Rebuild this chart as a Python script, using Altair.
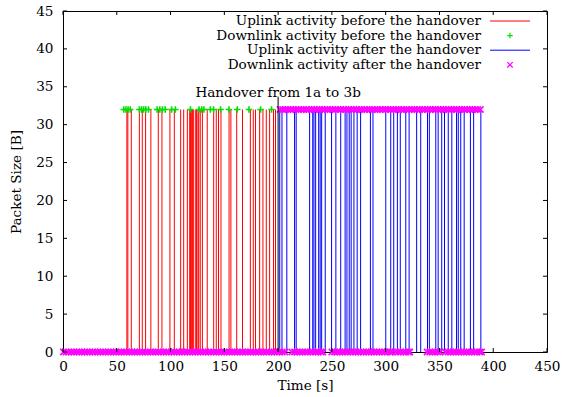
import altair as alt
import pandas as pd

# ---------------- data ----------------
uplink_before_t = [59.4, 60.3, 63.5, 71.0, 73.7, 76.8, 81.7, 88.6, 92.0, 99.4, 103.5, 109.4,
                   112.2, 115.6, 117.8, 118.6, 119.6, 120.5, 121.5, 123.4, 124.2, 125.5, 126.2,
                   127.6, 129.6, 134.1, 140.1, 142.5, 144.6, 146.9, 154.4, 156.1, 161.5, 166.9,
                   174.2, 176.9, 179.0, 182.8, 185.9, 189.0, 192.1, 195.7, 197.6]
uplink_after_t = [201.5, 203.6, 208.1, 215.3, 216.8, 229.3, 232.2, 233.3, 234.9, 237.7, 239.1,
                  240.5, 243.8, 249.7, 253.7, 258.2, 262.3, 264.0, 266.1, 267.9, 270.5, 273.5,
                  276.7, 285.8, 288.2, 300.1, 304.7, 307.5, 310.9, 313.6, 318.7, 321.8, 328.8,
                  332.6, 338.9, 340.6, 346.6, 348.8, 352.1, 354.7, 358.2, 361.5, 365.9, 367.5,
                  369.8, 373.0, 378.8, 381.8, 388.5]
uplink_size = 32

downlink_before_t = [56.5, 58.5, 60.5, 62.5, 71.0, 73.0, 75.0, 77.0, 79.5, 87.5, 90.0, 92.5,
                     95.0, 101.0, 104.5, 118.5, 126.5, 129.0, 131.0, 137.0, 140.0, 146.5,
                     154.3, 162.0, 172.9, 183.7, 193.9]
downlink_size = 32

downlink_after_t32 = [201.8, 204.2, 206.7, 209.1, 211.6, 214.0, 216.5, 218.9, 221.4, 223.8,
                      226.3, 228.7, 231.2, 233.6, 236.1, 238.5, 241.0, 243.4, 245.9, 248.3,
                      250.8, 253.2, 255.7, 258.1, 260.6, 263.0, 265.5, 267.9, 270.4, 272.8,
                      275.3, 277.7, 280.2, 282.6, 285.1, 287.5, 290.0, 292.4, 294.9, 297.3,
                      299.8, 302.2, 304.7, 307.1, 309.6, 312.0, 314.5, 316.9, 319.4, 321.8,
                      324.3, 326.7, 329.2, 331.6, 334.1, 336.5, 339.0, 341.4, 343.9, 346.3,
                      348.8, 351.2, 353.7, 356.1, 358.6, 361.0, 363.5, 365.9, 368.4, 370.8,
                      373.3, 375.7, 378.2, 380.6, 383.1, 385.5, 388.0]
downlink_after_t0 = [0.4, 2.9, 5.3, 7.8, 10.2, 12.7, 15.1, 17.6, 20.0, 22.5, 24.9, 27.4, 29.8,
                     32.3, 34.7, 37.2, 39.6, 42.1, 44.5, 47.0, 49.4, 51.9, 54.3, 56.8, 59.2,
                     61.7, 64.1, 66.6, 69.0, 71.5, 73.9, 76.4, 78.8, 81.3, 83.7, 86.2, 88.6,
                     91.1, 93.5, 96.0, 98.4, 100.9, 103.3, 105.8, 108.2, 110.7, 113.1, 115.6,
                     118.0, 120.5, 122.9, 125.4, 127.8, 130.3, 132.7, 135.2, 137.6, 140.1,
                     142.5, 145.0, 147.4, 149.9, 152.3, 154.8, 157.2, 159.7, 162.1, 164.6,
                     167.0, 169.5, 171.9, 174.4, 176.8, 179.3, 181.7, 184.2, 186.6, 189.1,
                     191.5, 194.0, 196.4, 198.9, 201.3, 203.8, 206.2,
                     212.8, 215.3, 217.7, 220.2, 222.6, 225.1, 227.5, 230.0, 232.4, 234.9,
                     237.3, 239.8, 241.6,
                     250.0, 252.5, 254.9, 257.4, 259.8, 262.3, 264.7, 267.2, 269.6, 272.1,
                     274.5, 277.0, 279.4, 281.9, 284.3, 286.8, 289.2, 291.7, 294.1, 296.6,
                     299.0, 301.5, 303.9, 305.4,
                     309.0, 311.5, 313.9, 316.4, 318.8, 321.3, 322.4,
                     338.5, 341.0, 343.4, 345.9, 348.3, 350.4,
                     355.5, 358.0, 360.4, 362.9, 365.3, 367.8, 370.2, 372.7, 375.1, 377.6,
                     380.0, 382.5, 384.9, 387.4, 389.2]

handover_t = 200
handover_top = 33.7
handover_label = "Handover from 1a to 3b"

x_ticks = [0, 50, 100, 150, 200, 250, 300, 350, 400, 450]
y_ticks = [0, 5, 10, 15, 20, 25, 30, 35, 40, 45]

legend_labels = ["Uplink activity before the handover",
                 "Downlink activity before the handover",
                 "Uplink activity after the handover",
                 "Downlink activity after the handover"]

# ---------------- styling ----------------
FONT = "DejaVu Serif"
FS = 13.6
W, H = 484, 341
RED, GREEN, BLUE, MAGENTA = "#ff0000", "#00e000", "#0000ff", "#ff00ff"
PLUS = "M-1,0L1,0M0,-1L0,1"
CROSS = "M-1,-1L1,1M-1,1L1,-1"

xs = alt.Scale(domain=[0, 450], nice=False, zero=False)
ys = alt.Scale(domain=[0, 45], nice=False)

up_before = pd.DataFrame({"t": uplink_before_t, "size": uplink_size, "base": 0})
up_after = pd.DataFrame({"t": uplink_after_t, "size": uplink_size, "base": 0})
dl_before = pd.DataFrame({"t": downlink_before_t, "size": downlink_size})
dl_after = pd.DataFrame({
    "t": downlink_after_t32 + downlink_after_t0,
    "size": [downlink_size] * len(downlink_after_t32) + [0] * len(downlink_after_t0),
})

x_axis = alt.Axis(values=x_ticks, domain=False, ticks=False, grid=False,
                  labelFont=FONT, labelFontSize=FS, labelColor="black",
                  labelPadding=7, labelFlush=False, labelOverlap=False,
                  title="Time [s]", titleFont=FONT, titleFontSize=FS,
                  titleFontWeight="normal", titleColor="black", titlePadding=6)
y_axis = alt.Axis(values=y_ticks, domain=False, ticks=False, grid=False,
                  labelFont=FONT, labelFontSize=FS, labelColor="black",
                  labelPadding=10, labelFlush=False, labelOverlap=False,
                  title="Packet Size [B]", titleFont=FONT, titleFontSize=FS,
                  titleFontWeight="normal", titleColor="black", titlePadding=12)
X = alt.X("t:Q", scale=xs, axis=x_axis)
Y = alt.Y("size:Q", scale=ys, axis=y_axis)
Y2 = alt.Y2("base:Q")

red_rules = alt.Chart(up_before).mark_rule(color=RED, strokeWidth=1).encode(
    x=X, y=Y, y2=Y2)
green_pts = alt.Chart(dl_before).mark_point(
    shape=PLUS, size=42, filled=False, strokeWidth=1.6, color=GREEN, opacity=1
).encode(x=X, y=Y)
blue_rules = alt.Chart(up_after).mark_rule(color=BLUE, strokeWidth=1).encode(
    x=X, y=Y, y2=Y2)
mag_pts = alt.Chart(dl_after).mark_point(
    shape=CROSS, size=40, filled=False, strokeWidth=1.6, color=MAGENTA, opacity=1
).encode(x=X, y=Y)

ho_df = pd.DataFrame({"t": [handover_t], "size": [handover_top], "base": [0],
                      "label": [handover_label]})
ho_line = alt.Chart(ho_df).mark_rule(color="black", strokeWidth=1).encode(
    x=X, y=Y, y2=Y2)
ho_text = alt.Chart(ho_df).mark_text(
    font=FONT, fontSize=FS, align="center", baseline="alphabetic", dy=0, color="black"
).encode(x=X, y=Y, text="label:N")

# inward ticks on all four sides
xt = pd.DataFrame({"t": x_ticks})
yt = pd.DataFrame({"size": y_ticks})
tick_b = alt.Chart(xt).mark_rule(color="black", strokeWidth=1).encode(
    x=X, y=alt.value(H), y2=alt.value(H - 4))
tick_t = alt.Chart(xt).mark_rule(color="black", strokeWidth=1).encode(
    x=X, y=alt.value(0), y2=alt.value(4))
tick_l = alt.Chart(yt).mark_rule(color="black", strokeWidth=1).encode(
    y=Y, x=alt.value(0), x2=alt.value(4))
tick_r = alt.Chart(yt).mark_rule(color="black", strokeWidth=1).encode(
    y=Y, x=alt.value(W), x2=alt.value(W - 4))

# legend (top-right, gnuplot style: label then sample)
leg = pd.DataFrame({
    "label": legend_labels,
    "color": [RED, GREEN, BLUE, MAGENTA],
    "kind": ["line", "point", "line", "point"],
    "shape": [PLUS, PLUS, PLUS, CROSS],
})
leg["ypix"] = [10 + 14.6 * i for i in range(len(leg))]
leg_text = alt.Chart(leg).mark_text(
    font=FONT, fontSize=FS, align="right", baseline="middle", color="black"
).encode(x=alt.value(418), y=alt.Y("ypix:Q", scale=None), text="label:N")
leg_line = alt.Chart(leg).transform_filter(alt.datum.kind == "line").mark_rule(
    strokeWidth=1).encode(
    x=alt.value(427), x2=alt.value(467), y=alt.Y("ypix:Q", scale=None),
    color=alt.Color("color:N", scale=None))
leg_pt = alt.Chart(leg).transform_filter(alt.datum.kind == "point").mark_point(
    size=30, filled=False, strokeWidth=1.2, opacity=1).encode(
    x=alt.value(447), y=alt.Y("ypix:Q", scale=None),
    shape=alt.Shape("shape:N", scale=None), color=alt.Color("color:N", scale=None))

chart = alt.layer(
    red_rules, green_pts, blue_rules, mag_pts, ho_line, ho_text,
    tick_b, tick_t, tick_l, tick_r, leg_text, leg_line, leg_pt
).properties(
    width=W, height=H,
    autosize=alt.AutoSizeParams(type="none"),
    padding={"left": 63, "top": 11, "right": 15, "bottom": 45},
    background="white",
).configure_view(stroke="black", strokeWidth=1)

chart.save("out.html", embed_options={"renderer": "svg", "actions": False})
